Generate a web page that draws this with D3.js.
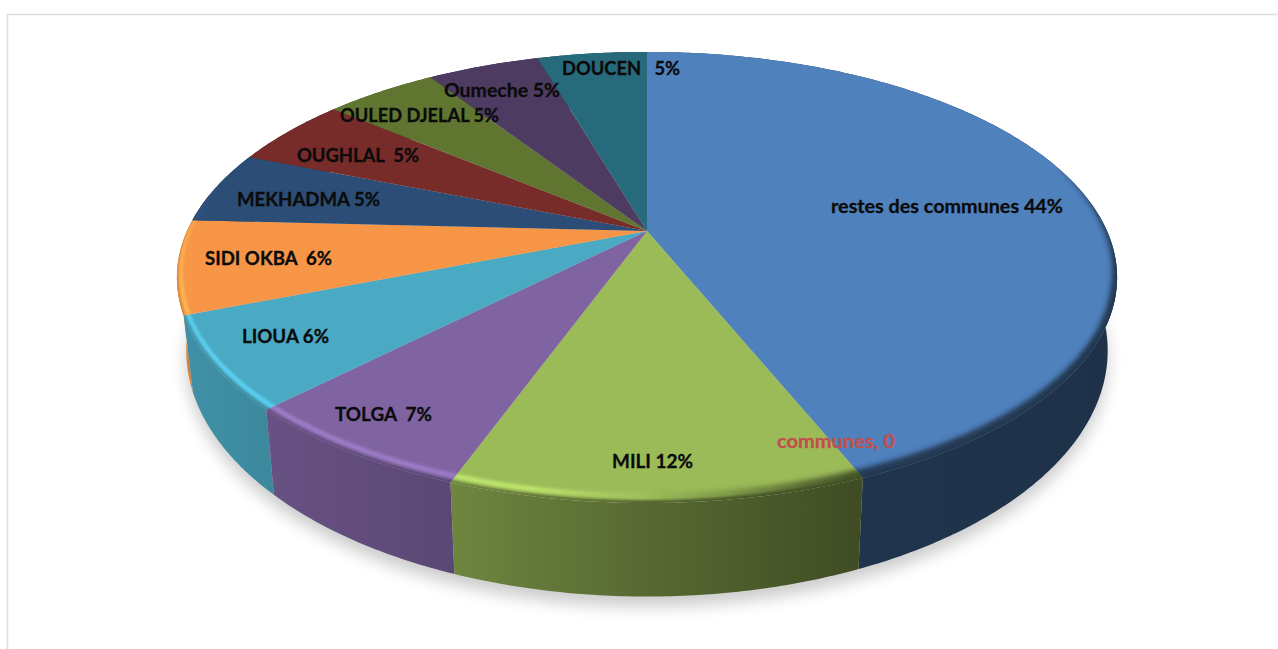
<!DOCTYPE html>
<html>
<head>
<meta charset="utf-8">
<script src="https://cdn.jsdelivr.net/npm/d3@7"></script>
<style>
  html, body { margin: 0; padding: 0; background: #fff; overflow: hidden; }
  text { font-family: Lato, "Open Sans", sans-serif; font-weight: 700; white-space: pre; }
</style>
</head>
<body>
<div id="app"></div>
<script>
const categories = ['restes des communes', 'communes', 'MILI', 'TOLGA', 'LIOUA', 'SIDI OKBA', 'MEKHADMA', 'OUGHLAL', 'OULED DJELAL', 'Oumeche', 'DOUCEN'];
const shares = [43.8, 0, 11.8, 6.9, 6.6, 6.7, 5.2, 5.0, 4.7, 4.7, 4.6];
const labels = ['restes des communes 44%', 'communes, 0', 'MILI 12%', 'TOLGA  7%', 'LIOUA 6%', 'SIDI OKBA  6%', 'MEKHADMA 5%', 'OUGHLAL  5%', 'OULED DJELAL 5%', 'Oumeche 5%', 'DOUCEN   5%'];
const colors = ['#4f81bd', '#c0504d', '#9bbb59', '#8064a2', '#4aa9c3', '#f79646', '#2c4d75', '#772c2a', '#5f7530', '#4d3b62', '#276a7c'];

// labels were dragged by hand in the original, so they get their own spots
const labelX = [831, 777, 612, 335, 242, 205, 237, 297, 340, 444, 562];
const labelY = [213, 448, 468, 421, 343, 265, 206, 162, 122, 97, 75];
const labelW = [232, 118, 81, 97, 87, 127, 143, 122, 159, 116, 118];

const width = 1278;
const height = 649;
const fontSize = 19;

// perspective of the tilted disc
const cx = 647;
const cy = 231;
const scaleU = 460;
const scaleV = 216;
const tilt = 0.206;
const lowerX = 0.98;
const lowerY = 1.09;
const depth = 69;
const pieLeft = 176;
const pieRight = 1118;

const svg = d3.select('#app').append('svg')
  .attr('width', width)
  .attr('height', height);

const defs = svg.append('defs');

const topPoint = theta => {
  const u = Math.sin(theta);
  const v = -Math.cos(theta);
  const d = 1 - tilt * v;
  return [cx + scaleU * u / d, cy + scaleV * v / d];
};

const lowPoint = theta => {
  const [x, y] = topPoint(theta);
  return [cx + lowerX * (x - cx), cy + lowerY * (y - cy) + depth];
};

const sweep = (a, b) => {
  const n = Math.max(2, Math.ceil(Math.abs(b - a) / 0.01));
  return d3.range(n + 1).map(i => a + (b - a) * i / n);
};

const line = d3.line();
const closed = pts => line(pts) + 'Z';

const shade = (c, m) => {
  const rgb = d3.rgb(c);
  return d3.rgb(rgb.r * m, rgb.g * m, rgb.b * m).formatHex();
};

const slices = d3.pie().sort(null).value(d => d.share)(
  categories.map((name, i) => ({ name, share: shares[i], color: colors[i], id: i }))
).filter(d => d.value > 0);

const facePath = d => closed([[cx, cy]].concat(sweep(d.startAngle, d.endAngle).map(topPoint)));

// filters
const blurFilter = (id, dev) => defs.append('filter')
  .attr('id', id)
  .attr('x', '-30%').attr('y', '-60%')
  .attr('width', '160%').attr('height', '220%')
  .append('feGaussianBlur')
  .attr('stdDeviation', dev);

blurFilter('shadowBlur', 8);
blurFilter('softBlur', 1.2);
blurFilter('lightBlur', 1.8);
blurFilter('darkBlur', 2.6);

// gradients for the wall and the bevel along the rim
const wallStops = [[0, 0.86, 1], [0.28, 0.72, 1], [0.5, 0.56, 1], [0.72, 0.41, 1], [1, 0.38, 1]];
const lightStops = [[0, 1.28, 1], [0.38, 1.26, 0.85], [0.52, 1.2, 0], [1, 1.2, 0]];
const darkStops = [[0, 0.42, 0], [0.5, 0.42, 0], [0.58, 0.42, 0.3], [0.72, 0.42, 0.95], [1, 0.4, 0.95]];

const gradient = (id, color, stops) => {
  const g = defs.append('linearGradient')
    .attr('id', id)
    .attr('gradientUnits', 'userSpaceOnUse')
    .attr('x1', pieLeft).attr('x2', pieRight)
    .attr('y1', 0).attr('y2', 0);
  stops.forEach(([at, m, op]) => {
    g.append('stop').attr('offset', at)
      .attr('stop-color', shade(color, m))
      .attr('stop-opacity', op);
  });
};

slices.forEach(d => {
  gradient(`wall${d.data.id}`, d.data.color, wallStops);
  gradient(`light${d.data.id}`, d.data.color, lightStops);
  gradient(`dark${d.data.id}`, d.data.color, darkStops);
  defs.append('clipPath').attr('id', `face${d.data.id}`)
    .append('path').attr('d', facePath(d));
});

// chart frame, open on the right and at the bottom
svg.append('path')
  .attr('d', line([[7.5, height], [7.5, 14.5], [width, 14.5]]))
  .attr('fill', 'none')
  .attr('stroke', '#dedede')
  .attr('stroke-width', 1.5);

// soft shadow under the disc
svg.append('path')
  .attr('d', closed(sweep(0, 2 * Math.PI).map(lowPoint)))
  .attr('transform', 'translate(0,10)')
  .attr('fill', '#000')
  .attr('opacity', 0.2)
  .attr('filter', 'url(#shadowBlur)');

// walls, the ones nearest the viewer go last
svg.append('g')
  .selectAll('path')
  .data(slices.slice().sort((a, b) =>
    Math.abs((b.startAngle + b.endAngle) / 2 - Math.PI) - Math.abs((a.startAngle + a.endAngle) / 2 - Math.PI)))
  .join('path')
  .attr('d', d => {
    const ts = sweep(d.startAngle, d.endAngle);
    return closed(ts.map(topPoint).concat(ts.slice().reverse().map(lowPoint)));
  })
  .attr('fill', d => `url(#wall${d.data.id})`);

// top faces
svg.append('g')
  .selectAll('path')
  .data(slices)
  .join('path')
  .attr('d', facePath)
  .attr('fill', d => d.data.color);

// bevel: crescents that run inside the front rim and taper out towards the back
const rimFrom = 1.25;
const rimTo = 5.05;
const taperSpan = 0.6;

const inset = (t, o) => {
  const [x, y] = topPoint(t);
  const k = o * Math.min(1, (t - rimFrom) / taperSpan, (rimTo - t) / taperSpan);
  return [x - Math.sin(t) * 0.6 * k, y + Math.cos(t) * k];
};

const crescent = (d, o1, o2) => {
  const ts = sweep(Math.max(d.startAngle - 0.04, rimFrom), Math.min(d.endAngle + 0.04, rimTo));
  return closed(ts.map(t => inset(t, o1)).concat(ts.slice().reverse().map(t => inset(t, o2))));
};

const bevel = (name, o1, o2, blur) => svg.append('g')
  .selectAll('g')
  .data(slices.filter(d => d.startAngle < rimTo && d.endAngle > rimFrom))
  .join('g')
  .attr('clip-path', d => `url(#face${d.data.id})`)
  .append('path')
  .attr('d', d => crescent(d, o1, o2))
  .attr('fill', d => `url(#${name}${d.data.id})`)
  .attr('filter', `url(#${blur})`);

bevel('wall', -2, 3, 'softBlur');
bevel('dark', -2, 10, 'darkBlur');
bevel('light', 5, 10, 'lightBlur');

// labels
svg.append('g')
  .selectAll('text')
  .data(labels)
  .join('text')
  .attr('x', (d, i) => labelX[i])
  .attr('y', (d, i) => labelY[i])
  .attr('font-size', fontSize)
  .attr('textLength', (d, i) => labelW[i])
  .attr('lengthAdjust', 'spacingAndGlyphs')
  .attr('fill', (d, i) => shares[i] === 0 ? colors[i] : '#0b0b0b')
  .attr('stroke', (d, i) => shares[i] === 0 ? colors[i] : '#0b0b0b')
  .attr('stroke-width', 0.3)
  .text(d => d);
</script>
</body>
</html>
